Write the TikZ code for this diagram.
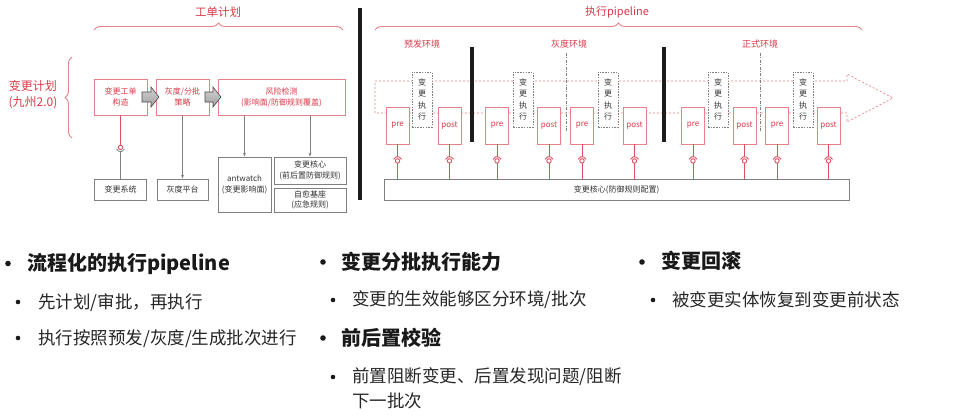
\documentclass[tikz,border=0pt]{standalone}
\usepackage{fontspec}
\setmainfont{Noto Sans CJK SC}
\usetikzlibrary{decorations.pathreplacing,arrows.meta,calc}
\definecolor{rtxt}{RGB}{216,58,72}
\definecolor{rbox}{RGB}{232,130,138}
\definecolor{rline}{RGB}{222,82,96}
\definecolor{gline}{RGB}{128,128,128}
\definecolor{gtxt}{RGB}{51,51,51}
\definecolor{barc}{RGB}{28,28,28}
\begin{document}
\begin{tikzpicture}[x=1pt,y=-1pt,
  rbx/.style={draw=rbox,line width=0.8pt,fill=white,text=rtxt,font=\fontsize{8}{11}\selectfont,align=center,inner sep=0pt},
  gbx/.style={draw=gline,line width=0.8pt,fill=white,text=gtxt,font=\fontsize{8}{10.5}\selectfont,align=center,inner sep=0pt},
  sz/.style 2 args={minimum width=#1pt,minimum height=#2pt},
  pp/.style={rbx,sz={23}{37}},
  ex/.style={draw=gline,dash pattern=on 1.5pt off 1.2pt,line width=0.7pt,fill=white,text=gtxt,font=\fontsize{8}{11.3}\selectfont,align=center,inner sep=0pt,minimum width=20pt,minimum height=55pt},
  rl/.style={draw=rline,line width=0.9pt},
  gl/.style={draw=gline,line width=0.8pt},
  ttl/.style={text=rtxt,inner sep=0pt},
  brc/.style={draw=rbox,line width=0.9pt,decorate,decoration={brace,amplitude=7pt}},
  blk/.style={top color=gray!35,bottom color=gray!75,draw=gray!60!black,line width=0.6pt},
  hd/.style={anchor=west,inner sep=0pt,font=\fontsize{20}{24}\selectfont\bfseries,text=black!90},
  sb/.style={anchor=west,inner sep=0pt,font=\fontsize{17.5}{22}\selectfont,text=black!85},
  bul/.style={fill=black!90}
]
\useasboundingbox (0,0) rectangle (959,420);

% ---------- left: plan ----------
\node[ttl,font=\fontsize{11.5}{14}\selectfont] (t1) at (218,12) {工单计划};
\draw[brc] (94,30) -- (343,30);
\node[ttl,font=\fontsize{12}{15}\selectfont] (t2) at (33,86) {变更计划};
\node[ttl,font=\fontsize{12}{15}\selectfont] (t3) at (33,103) {(九州2.0)};
\draw[brc] (72,138) -- (72,57);

\node[rbx,sz={53}{36}] (b1) at (120.5,97) {变更工单\\构造};
\node[rbx,sz={53}{36}] (b2) at (182.5,97) {灰度/分批\\策略};
\node[rbx,sz={127}{36}] (b3) at (281.5,97) {风险检测\\(影响面/防御规则覆盖)};

\draw[blk] (142,92) -- (151,92) -- (151,87) -- (159,97) -- (151,107) -- (151,102) -- (142,102) -- cycle;
\draw[blk] (205,92) -- (213,92) -- (213,87) -- (221,97) -- (213,107) -- (213,102) -- (205,102) -- cycle;

\node[gbx,sz={52}{21}] (g1) at (120.5,189.5) {变更系统};
\node[gbx,sz={51}{21}] (g2) at (182.5,189.5) {灰度平台};
\node[gbx,sz={53}{55}] (g3) at (244.5,184.5) {antwatch\\(变更影响面)};
\node[gbx,sz={72}{27}] (g4) at (310,170.5) {变更核心\\(前后置防御规则)};
\node[gbx,sz={72}{24}] (g5) at (310,200) {自愈基座\\(应急规则)};

\coordinate (k1) at ($(b1.south)+(0,32)$);
\draw[rl] (b1.south) -- ($(k1)+(0,-2.2)$);
\draw[rl] (k1) circle (2.2pt);
\draw[gl] ($(k1)+(200:4.3pt)$) arc (200:340:4.3pt);
\draw[gl] ($(k1)+(0,4.3)$) -- (g1.north);
\draw[gl,-{Stealth[length=4pt,width=3pt]}] (b2.south) -- (g2.north);
\draw[gl,-{Stealth[length=4pt,width=3pt]}] (g3.north |- b3.south) -- (g3.north);
\draw[gl,-{Stealth[length=4pt,width=3pt]}] (g4.north |- b3.south) -- (g4.north);

% ---------- separators ----------
\fill[barc] (358,8) rectangle (362,200);

% ---------- right: pipeline ----------
\node[ttl,font=\fontsize{11}{14}\selectfont] (t4) at (617,12) {执行pipeline};
\draw[brc] (375,30) -- (862,30);
\node[ttl,font=\fontsize{9}{11}\selectfont] (e1) at (422,44) {预发环境};
\node[ttl,font=\fontsize{9}{11}\selectfont] (e2) at (569,44) {灰度环境};
\node[ttl,font=\fontsize{9}{11}\selectfont] (e3) at (760,44) {正式环境};

\draw[draw=rbox,line width=0.7pt,dash pattern=on 2pt off 2pt]
  (375,81) -- (847,81) -- (847,74) -- (893,98) -- (847,122) -- (847,113) -- (375,113) -- cycle;

\draw[gl,line width=0.6pt,dash pattern=on 3pt off 1.5pt on 0.8pt off 1.5pt] (566,53) -- (566,132);
\draw[gl,line width=0.6pt,dash pattern=on 3pt off 1.5pt on 0.8pt off 1.5pt] (760,53) -- (760,132);

\fill[barc] (470,47) rectangle (474,142);
\fill[barc] (661.5,47) rectangle (665.5,142);

\node[pp] (p1) at (397.5,125.5) {pre};
\node[pp] (p2) at (449.5,125.5) {post};
\node[pp] (p3) at (497,125.5) {pre};
\node[pp] (p4) at (549,125.5) {post};
\node[pp] (p5) at (582,125.5) {pre};
\node[pp] (p6) at (634.5,125.5) {post};
\node[pp] (p7) at (693,125.5) {pre};
\node[pp] (p8) at (744.5,125.5) {post};
\node[pp] (p9) at (777,125.5) {pre};
\node[pp] (p10) at (828.5,125.5) {post};

\node[ex] (x1) at (422,99.5) {变\\更\\执\\行};
\node[ex] (x2) at (523,99.5) {变\\更\\执\\行};
\node[ex] (x3) at (608,99.5) {变\\更\\执\\行};
\node[ex] (x4) at (718,99.5) {变\\更\\执\\行};
\node[ex] (x5) at (803,99.5) {变\\更\\执\\行};

\node[gbx,sz={465}{21}] (core) at (616.5,189.5) {变更核心(防御规则配置)};

\foreach \i in {1,...,10}{
  \coordinate (c\i) at ($(p\i.south)+(0,16.5)$);
  \draw[rl] (p\i.south) -- ($(c\i)+(0,-4.3)$);
  \draw[rl] (c\i) circle (2.2pt);
  \draw[rl] ($(c\i)+(20:4.3pt)$) arc (20:160:4.3pt);
  \draw[rl] ($(c\i)+(0,2.2)$) -- (p\i.south |- core.north);
}

% ---------- bullets ----------
\fill[bul] (8,263.5) circle (2.8pt);
\node[hd] (h1) at (27,264) {流程化的执行pipeline};
\fill[bul] (18,302) circle (2.3pt);
\node[sb] (s1) at (38,302.5) {先计划/审批，再执行};
\fill[bul] (18,338) circle (2.3pt);
\node[sb] (s2) at (38,338.5) {执行按照预发/灰度/生成批次进行};

\fill[bul] (323,262) circle (2.8pt);
\node[hd] (h2) at (341,262) {变更分批执行能力};
\fill[bul] (333,300) circle (2.3pt);
\node[sb] (s3) at (352,300) {变更的生效能够区分环境/批次};
\fill[bul] (323,338) circle (2.8pt);
\node[hd] (h3) at (341,338) {前后置校验};
\fill[bul] (333,377) circle (2.3pt);
\node[sb] (s4) at (352,377) {前置阻断变更、后置发现问题/阻断};
\node[sb] (s5) at (352,401) {下一批次};

\fill[bul] (642,262) circle (2.8pt);
\node[hd] (h4) at (661,261) {变更回滚};
\fill[bul] (653,300) circle (2.3pt);
\node[sb] (s6) at (672,300) {被变更实体恢复到变更前状态};
\end{tikzpicture}
\end{document}
